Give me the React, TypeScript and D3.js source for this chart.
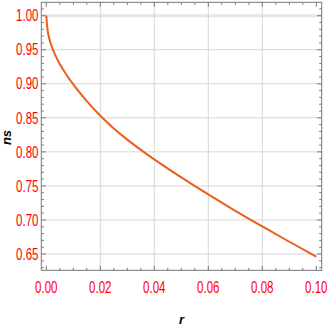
import React from "react";
import * as d3 from "d3";

const rValues = [0, 0.0005, 0.001, 0.002, 0.003, 0.005, 0.0075, 0.01, 0.015, 0.02, 0.025, 0.03, 0.035, 0.04, 0.05, 0.06, 0.07, 0.08, 0.09, 0.1];
const nsValues = [1.0, 0.978, 0.968, 0.955, 0.945, 0.929, 0.913, 0.899, 0.8745, 0.853, 0.8345, 0.818, 0.803, 0.789, 0.7625, 0.7375, 0.7135, 0.6905, 0.668, 0.646];
const xTickLabels = ["0.00", "0.02", "0.04", "0.06", "0.08", "0.10"];
const yTickLabels = ["0.65", "0.70", "0.75", "0.80", "0.85", "0.90", "0.95", "1.00"];

const W = 327;
const H = 327;
const left = 41.3;
const right = 321.7;
const top = 2.3;
const bottom = 270.3;

export default function App() {
  const x = d3.scaleLinear().domain([0, 0.1]).range([46.3, 316.3]);
  const y = d3.scaleLinear().domain([0.65, 1.0]).range([254, 15.7]);
  const xMin = x.invert(left), xMax = x.invert(right);
  const yMin = y.invert(bottom), yMax = y.invert(top);

  const data = rValues.map((r, i) => ({ r, ns: nsValues[i] }));
  const line = d3.line<{ r: number; ns: number }>()
    .x(d => x(d.r))
    .y(d => y(d.ns))
    .curve(d3.curveMonotoneX);

  const xMajor = xTickLabels.map(Number);
  const yMajor = yTickLabels.map(Number);
  const xMinor = d3.range(0, 0.1001, 0.005).filter(v => v >= xMin && v <= xMax && !xMajor.some(m => Math.abs(m - v) < 1e-9));
  const yMinor = d3.range(0.63, 1.0201, 0.01).filter(v => v >= yMin && v <= yMax && !yMajor.some(m => Math.abs(m - v) < 1e-9));

  const frame = "#777";
  const grid = "#d6d6d6";
  const majorLen = 4.5;
  const minorLen = 2.5;
  const labelFont = "'Liberation Sans', Arial, sans-serif";

  return (
    <svg width={W} height={H} style={{ position: "absolute", left: 0, top: 0, background: "#fff" }}>
      {/* gridlines */}
      {yMajor.filter(v => v !== 1.0).map(v => (
        <line key={"gy" + v} x1={left} x2={right} y1={y(v)} y2={y(v)} stroke={grid} strokeWidth={1} />
      ))}
      <line x1={left} x2={right} y1={y(1.0)} y2={y(1.0)} stroke="#e6e6e6" strokeWidth={3} />
      {xMajor.filter(v => v > 0 && v < 0.1).map(v => (
        <line key={"gx" + v} x1={x(v)} x2={x(v)} y1={top} y2={bottom} stroke={grid} strokeWidth={1} />
      ))}

      {/* curve */}
      <path d={line(data) || ""} fill="none" stroke="#e8601c" strokeWidth={2} />

      {/* frame */}
      <rect x={left} y={top} width={right - left} height={bottom - top} fill="none" stroke={frame} strokeWidth={1} />

      {/* ticks */}
      {xMajor.map(v => (
        <g key={"xt" + v}>
          <line x1={x(v)} x2={x(v)} y1={bottom} y2={bottom - majorLen} stroke={frame} />
          <line x1={x(v)} x2={x(v)} y1={top} y2={top + majorLen} stroke={frame} />
        </g>
      ))}
      {xMinor.map(v => (
        <g key={"xm" + v}>
          <line x1={x(v)} x2={x(v)} y1={bottom} y2={bottom - minorLen} stroke={frame} />
          <line x1={x(v)} x2={x(v)} y1={top} y2={top + minorLen} stroke={frame} />
        </g>
      ))}
      {yMajor.map(v => (
        <g key={"yt" + v}>
          <line x1={left} x2={left + majorLen} y1={y(v)} y2={y(v)} stroke={frame} />
          <line x1={right} x2={right - majorLen} y1={y(v)} y2={y(v)} stroke={frame} />
        </g>
      ))}
      {yMinor.map(v => (
        <g key={"ym" + v}>
          <line x1={left} x2={left + minorLen} y1={y(v)} y2={y(v)} stroke={frame} />
          <line x1={right} x2={right - minorLen} y1={y(v)} y2={y(v)} stroke={frame} />
        </g>
      ))}

      {/* tick labels */}
      {xTickLabels.map(t => (
        <g key={"xl" + t} transform={`translate(${x(Number(t))},292.5) scale(0.72,1)`}>
          <text textAnchor="middle" fill="#ff0000" fontSize={16} fontFamily={labelFont}>{t}</text>
        </g>
      ))}
      {yTickLabels.map(t => (
        <g key={"yl" + t} transform={`translate(38.5,${y(Number(t)) + 5.7}) scale(0.72,1)`}>
          <text textAnchor="end" fill="#ff0000" fontSize={16} fontFamily={labelFont}>{t}</text>
        </g>
      ))}

      {/* axis titles */}
      <text transform="translate(11,137.5) rotate(-90)" textAnchor="middle" fontSize={13} fontStyle="italic" fontWeight="bold" fontFamily={labelFont} fill="#000">ns</text>
      <text x={181.5} y={324} textAnchor="middle" fontSize={13} fontStyle="italic" fontWeight="bold" fontFamily={labelFont} fill="#000">r</text>
    </svg>
  );
}
